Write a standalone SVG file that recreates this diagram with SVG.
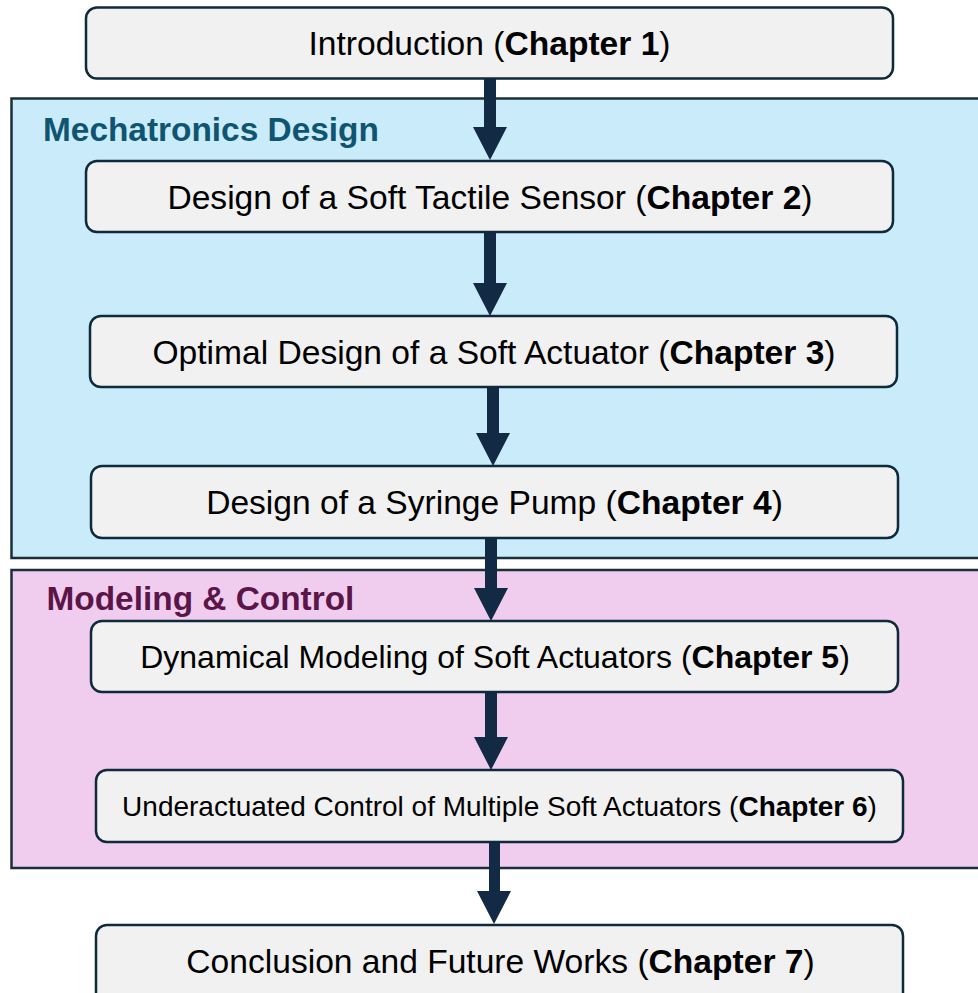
<svg xmlns="http://www.w3.org/2000/svg" width="978" height="993" viewBox="0 0 978 993">
  <style>
    .panel { stroke: #1b2f3b; stroke-width: 2.5; }
    .mech { fill: #c9ebfa; }
    .ctrl { fill: #f0cdee; }
    .heading { font-family: "Liberation Sans", Arial, sans-serif; font-weight: bold; font-size: 33.4px; }
    .box { fill: #f1f1f1; stroke: #0f2a3a; stroke-width: 2.5; }
    .label { font-family: "Liberation Sans", Arial, sans-serif; font-size: 33.6px; fill: #000; text-anchor: middle; }
    .mid { font-size: 32px; }
    .small { font-size: 28px; }
    .bold { font-weight: bold; }
    .arrow { fill: #122a44; }
  </style>

  <rect width="978" height="993" fill="#ffffff"/>

  <!-- section panels -->
  <g id="mechatronics-design">
    <rect class="panel mech" x="11.5" y="98.5" width="980" height="459.5"/>
    <text class="heading" x="43" y="141" fill="#0f5571">Mechatronics Design</text>
  </g>
  <g id="modeling-control">
    <rect class="panel ctrl" x="11.5" y="570" width="980" height="298"/>
    <text class="heading" x="46.5" y="610" fill="#5b1548">Modeling &amp; Control</text>
  </g>

  <!-- flow arrows -->
  <g id="connectors">
    <path class="arrow" d="M484 79 H496 V127 H507 L490 160 L473 127 H484 Z"/>
    <path class="arrow" d="M484 232 H496 V283 H507 L490 316 L473 283 H484 Z"/>
    <path class="arrow" d="M487 387 H499 V433 H510 L493 466 L476 433 H487 Z"/>
    <path class="arrow" d="M485 538 H497 V588 H508 L491 621 L474 588 H485 Z"/>
    <path class="arrow" d="M485 692 H497 V737 H508 L491 770 L474 737 H485 Z"/>
    <path class="arrow" d="M489 842 H500 V891 H511 L494 924 L477 891 H489 Z"/>
  </g>

  <!-- chapter boxes -->
  <g id="chapter1">
    <rect class="box" x="86" y="7.5" width="807" height="71" rx="11"/>
    <text class="label" x="489.5" y="55">Introduction (<tspan class="bold">Chapter 1</tspan>)</text>
  </g>
  <g id="chapter2">
    <rect class="box" x="86" y="161" width="807" height="71" rx="11"/>
    <text class="label" x="490" y="209">Design of a Soft Tactile Sensor (<tspan class="bold">Chapter 2</tspan>)</text>
  </g>
  <g id="chapter3">
    <rect class="box" x="90" y="316" width="807" height="71" rx="11"/>
    <text class="label" x="494" y="364">Optimal Design of a Soft Actuator (<tspan class="bold">Chapter 3</tspan>)</text>
  </g>
  <g id="chapter4">
    <rect class="box" x="91" y="466" width="807" height="72" rx="11"/>
    <text class="label" x="494.5" y="514">Design of a Syringe Pump (<tspan class="bold">Chapter 4</tspan>)</text>
  </g>
  <g id="chapter5">
    <rect class="box" x="91" y="621" width="807" height="71" rx="11"/>
    <text class="label mid" x="495" y="668">Dynamical Modeling of Soft Actuators (<tspan class="bold">Chapter 5</tspan>)</text>
  </g>
  <g id="chapter6">
    <rect class="box" x="96" y="770" width="807" height="72" rx="11"/>
    <text class="label small" x="499.5" y="816">Underactuated Control of Multiple Soft Actuators (<tspan class="bold">Chapter 6</tspan>)</text>
  </g>
  <g id="chapter7">
    <rect class="box" x="96" y="925" width="807" height="80" rx="11"/>
    <text class="label" x="500.5" y="973">Conclusion and Future Works (<tspan class="bold">Chapter 7</tspan>)</text>
  </g>
</svg>
